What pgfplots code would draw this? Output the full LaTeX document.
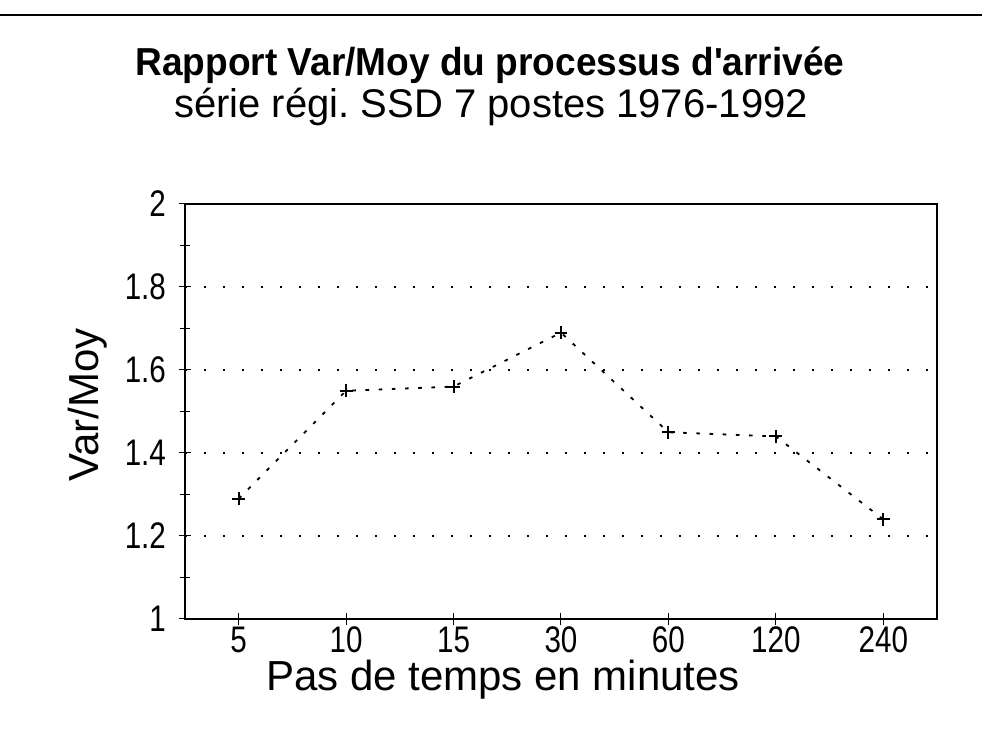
\documentclass[border=0pt]{standalone}
\usepackage{fontspec}
\setmainfont{Liberation Sans}
\newfontfamily\tickfont[FakeStretch=0.8]{Liberation Sans}
\newfontfamily\titlefont[FakeStretch=0.95]{Liberation Sans}
\usepackage{pgfplots}
\pgfplotsset{compat=1.18}
\frenchspacing
\begin{document}
\begin{tikzpicture}
\useasboundingbox (-92.5pt,-60pt) rectangle (398.5pt,309.5pt);
\draw[line width=1pt] (-92.5pt,302pt) -- (398.5pt,302pt);
\node[font=\titlefont\fontsize{19.5}{23}\selectfont\bfseries] at (152.5pt,277pt) {Rapport Var/Moy du processus d'arrivée};
\node[font=\fontsize{20}{24}\selectfont] at (153pt,256pt) {série régi. SSD 7 postes 1976-1992};
\begin{axis}[
  scale only axis,
  width=376pt, height=207.5pt,
  xmin=-0.5, xmax=6.5,
  ymin=1, ymax=2,
  xtick={0,1,2,3,4,5,6},
  xticklabels={5,10,15,30,60,120,240},
  ytick={1,1.2,1.4,1.6,1.8,2},
  minor y tick num=1,
  xtick pos=bottom, ytick pos=left,
  tick align=center,
  major tick length=6pt, minor tick length=5pt,
  axis line style={line width=1pt},
  every tick/.style={black, line width=0.5pt},
  ymajorgrids,
  major grid style={black, line width=0.9pt, dash pattern=on 0.9pt off 8.6pt},
  /pgf/number format/assume math mode=true,
  tick label style={font=\tickfont\fontsize{18.5}{21}\selectfont},
  xticklabel style={yshift=1pt, inner ysep=1pt, text height=13.5pt, text depth=0.5pt, anchor=north},
  yticklabel style={xshift=-3pt},
  xlabel={Pas de temps en minutes},
  ylabel={Var/Moy},
  label style={font=\fontsize{21}{25}\selectfont},
  xlabel style={at={(axis description cs:0.423,-0.145)}, anchor=center, inner ysep=1pt},
  ylabel style={at={(axis description cs:-0.129,0.516)}, anchor=center},
]
\addplot[black, line width=0.9pt, dash pattern=on 1.8pt off 4.8pt,
  mark=+, mark size=3.2pt, mark options={solid, line width=1pt}]
  coordinates {(0,1.29) (1,1.55) (2,1.56) (3,1.69) (4,1.45) (5,1.44) (6,1.24)};
\end{axis}
\end{tikzpicture}
\end{document}
